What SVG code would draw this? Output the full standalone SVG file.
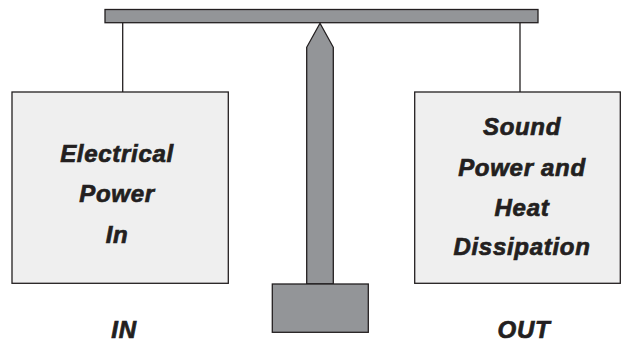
<svg xmlns="http://www.w3.org/2000/svg" width="621" height="344" viewBox="0 0 621 344">
<style>
.metal{fill:#939598;stroke:#231f20;stroke-width:1.3}
.box{fill:#efefef;stroke:#231f20;stroke-width:1.3}
.wire{stroke:#231f20;stroke-width:1.3;fill:none}
.t{font-family:"Liberation Sans",Arial,Helvetica,sans-serif;font-weight:bold;font-style:italic;font-size:24px;fill:#231f20;stroke:#231f20;stroke-width:0.7;text-anchor:middle;letter-spacing:0.7px}
</style>
<rect width="621" height="344" fill="#ffffff"/>
<g id="connectors">
<line class="wire" x1="122.7" y1="22.7" x2="122.7" y2="92"/>
<line class="wire" x1="520" y1="22.7" x2="520" y2="92"/>
</g>
<g id="beam">
<rect class="metal" x="105" y="9.5" width="433" height="13.2"/>
</g>
<g id="pivot">
<polygon class="metal" points="320,23.3 333.3,47.3 333.3,284 306.7,284 306.7,47.3"/>
<rect class="metal" x="272.3" y="284" width="96" height="48.3"/>
</g>
<g id="input">
<rect class="box" x="12" y="92" width="216.3" height="191.3"/>
<text class="t" x="117" y="161.7">Electrical</text>
<text class="t" x="117" y="201.7">Power</text>
<text class="t" x="117" y="242.5">In</text>
</g>
<g id="output">
<rect class="box" x="414.7" y="92" width="205.6" height="191.3"/>
<text class="t" x="522" y="135">Sound</text>
<text class="t" x="522" y="175.5">Power and</text>
<text class="t" x="522" y="216">Heat</text>
<text class="t" x="522" y="254.5">Dissipation</text>
</g>
<g id="label-in">
<text class="t" x="124" y="338">IN</text>
</g>
<g id="label-out">
<text class="t" x="524" y="337.5">OUT</text>
</g>
</svg>
